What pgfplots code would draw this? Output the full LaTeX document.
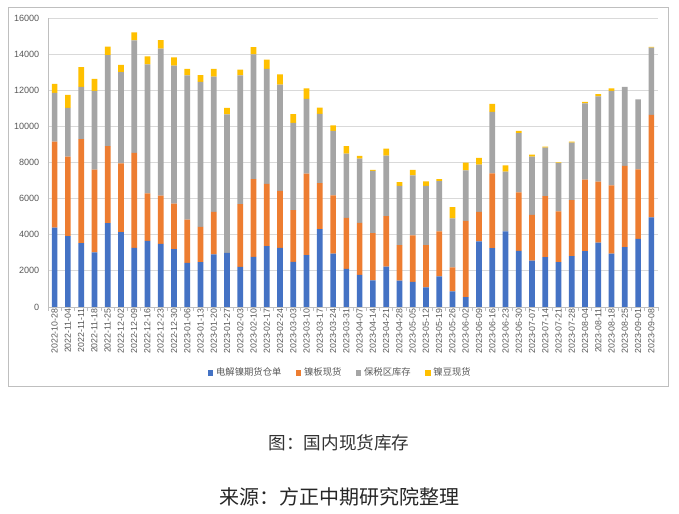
\documentclass[border=0pt]{standalone}
\usepackage{pgfplots}
\pgfplotsset{compat=1.18}
\usepackage{fontspec}
\setmainfont{Liberation Sans}
\newfontfamily\cjk{Noto Sans CJK SC}
\definecolor{cblue}{HTML}{4472C4}
\definecolor{corange}{HTML}{ED7D31}
\definecolor{cgray}{HTML}{A5A5A5}
\definecolor{cyellow}{HTML}{FFC000}
\definecolor{gridgray}{HTML}{D9D9D9}
\definecolor{txtgray}{HTML}{595959}
\definecolor{bordergray}{HTML}{BFBFBF}
\begin{document}
\begin{tikzpicture}
\useasboundingbox (0,0) rectangle (509.25pt,385.5pt);
\fill[white] (0,0) rectangle (509.25pt,385.5pt);
\draw[bordergray, line width=0.75pt] (6pt,95.25pt) rectangle (501pt,379.5pt);
\begin{axis}[
  at={(36pt,155.25pt)}, anchor=south west,
  scale only axis, width=457.5pt, height=216.75pt,
  ybar stacked, bar width=0.43,
  xmin=-0.5, xmax=45.5, ymin=0, ymax=16000,
  ytick={0,2000,...,16000},
  scaled y ticks=false,
  xtick={0,...,45},
  xticklabels={2022-10-28,2022-11-04,2022-11-11,2022-11-18,2022-11-25,2022-12-02,2022-12-09,2022-12-16,2022-12-23,2022-12-30,2023-01-06,2023-01-13,2023-01-20,2023-01-27,2023-02-03,2023-02-10,2023-02-17,2023-02-24,2023-03-03,2023-03-10,2023-03-17,2023-03-24,2023-03-31,2023-04-07,2023-04-14,2023-04-21,2023-04-28,2023-05-05,2023-05-12,2023-05-19,2023-05-26,2023-06-02,2023-06-09,2023-06-16,2023-06-23,2023-06-30,2023-07-07,2023-07-14,2023-07-21,2023-07-28,2023-08-04,2023-08-11,2023-08-18,2023-08-25,2023-09-01,2023-09-08},
  minor xtick={-0.5,0.5,...,45.5},
  major tick length=0pt, minor tick length=3pt,
  tick align=outside,
  xtick pos=bottom, ytick pos=left,
  axis lines*=left,
  axis line style={color=bordergray, line width=0.6pt},
  minor tick style={color=bordergray, line width=0.6pt},
  ymajorgrids, grid style={color=gridgray, line width=0.6pt},
  xticklabel style={rotate=90, anchor=east, font=\fontsize{6.6}{7}\selectfont, text=txtgray, inner sep=1pt, xshift=0pt},
  yticklabel style={font=\fontsize{6.8}{8}\selectfont, text=txtgray, xshift=-3pt},
  yticklabel={\pgfmathprintnumber[fixed,precision=0,1000 sep={},assume math mode=true]{\tick}},
  legend style={at={(0.480,-0.228)}, anchor=center, draw=none, fill=none,
     font=\cjk\fontsize{7}{8}\selectfont, text=txtgray, legend columns=4,
     /tikz/every even column/.append style={column sep=9pt}},
  legend image code/.code={\fill[#1] (0pt,-2pt) rectangle (4pt,2pt);},
  legend cell align=left,
]
\addplot[fill=cblue, draw=none] coordinates {
(0,4400)(1,3920)(2,3530)(3,3030)(4,4640)(5,4140)(6,3270)(7,3660)(8,3500)(9,3200)
(10,2440)(11,2480)(12,2920)(13,3000)(14,2220)(15,2770)(16,3370)(17,3270)(18,2500)(19,2870)
(20,4310)(21,2960)(22,2110)(23,1780)(24,1480)(25,2240)(26,1460)(27,1390)(28,1090)(29,1700)
(30,870)(31,540)(32,3640)(33,3260)(34,4180)(35,3110)(36,2570)(37,2760)(38,2480)(39,2810)
(40,3090)(41,3570)(42,2960)(43,3310)(44,3770)(45,4960)};
\addplot[fill=corange, draw=none] coordinates {
(0,4750)(1,4400)(2,5770)(3,4570)(4,4270)(5,3810)(6,5260)(7,2630)(8,2660)(9,2520)
(10,2400)(11,1960)(12,2350)(13,0)(14,3480)(15,4310)(16,3440)(17,3160)(18,2870)(19,4510)
(20,2550)(21,3220)(22,2830)(23,2880)(24,2610)(25,2790)(26,1960)(27,2570)(28,2330)(29,2480)
(30,1330)(31,4230)(32,1630)(33,4140)(34,0)(35,3240)(36,2530)(37,3380)(38,2810)(39,3110)
(40,3960)(41,3370)(42,3770)(43,4500)(44,3850)(45,5680)};
\addplot[fill=cgray, draw=none] coordinates {
(0,2700)(1,2700)(2,2890)(3,4365)(4,5030)(5,5050)(6,6230)(7,7140)(8,8140)(9,7640)
(10,7990)(11,8030)(12,7490)(13,7660)(14,7120)(15,6900)(16,6380)(17,5880)(18,4830)(19,4140)
(20,3830)(21,3570)(22,3550)(23,3550)(24,3440)(25,3350)(26,3290)(27,3330)(28,3290)(29,2790)
(30,2700)(31,2790)(32,2610)(33,3400)(34,3310)(35,3270)(36,3220)(37,2680)(38,2680)(39,3180)
(40,4220)(41,4720)(42,5240)(43,4380)(44,3880)(45,3720)};
\addplot[fill=cyellow, draw=none] coordinates {
(0,500)(1,720)(2,1090)(3,670)(4,480)(5,410)(6,440)(7,440)(8,480)(9,460)
(10,350)(11,370)(12,425)(13,370)(14,320)(15,410)(16,500)(17,570)(18,480)(19,590)
(20,350)(21,300)(22,410)(23,150)(24,55)(25,390)(26,200)(27,300)(28,240)(29,110)
(30,630)(31,430)(32,370)(33,440)(34,350)(35,130)(36,110)(37,55)(38,35)(39,55)
(40,90)(41,130)(42,130)(43,0)(44,0)(45,40)};
\legend{电解镍期货仓单,镍板现货,保税区库存,镍豆现货}
\end{axis}
\node[font=\cjk\fontsize{13.2}{15}\selectfont, text=black!80] at (254.25pt,53.25pt) {图：国内现货库存};
\node[font=\cjk\fontsize{15}{17}\selectfont, text=black!85] at (254.25pt,12.75pt) {来源：方正中期研究院整理};
\end{tikzpicture}
\end{document}
